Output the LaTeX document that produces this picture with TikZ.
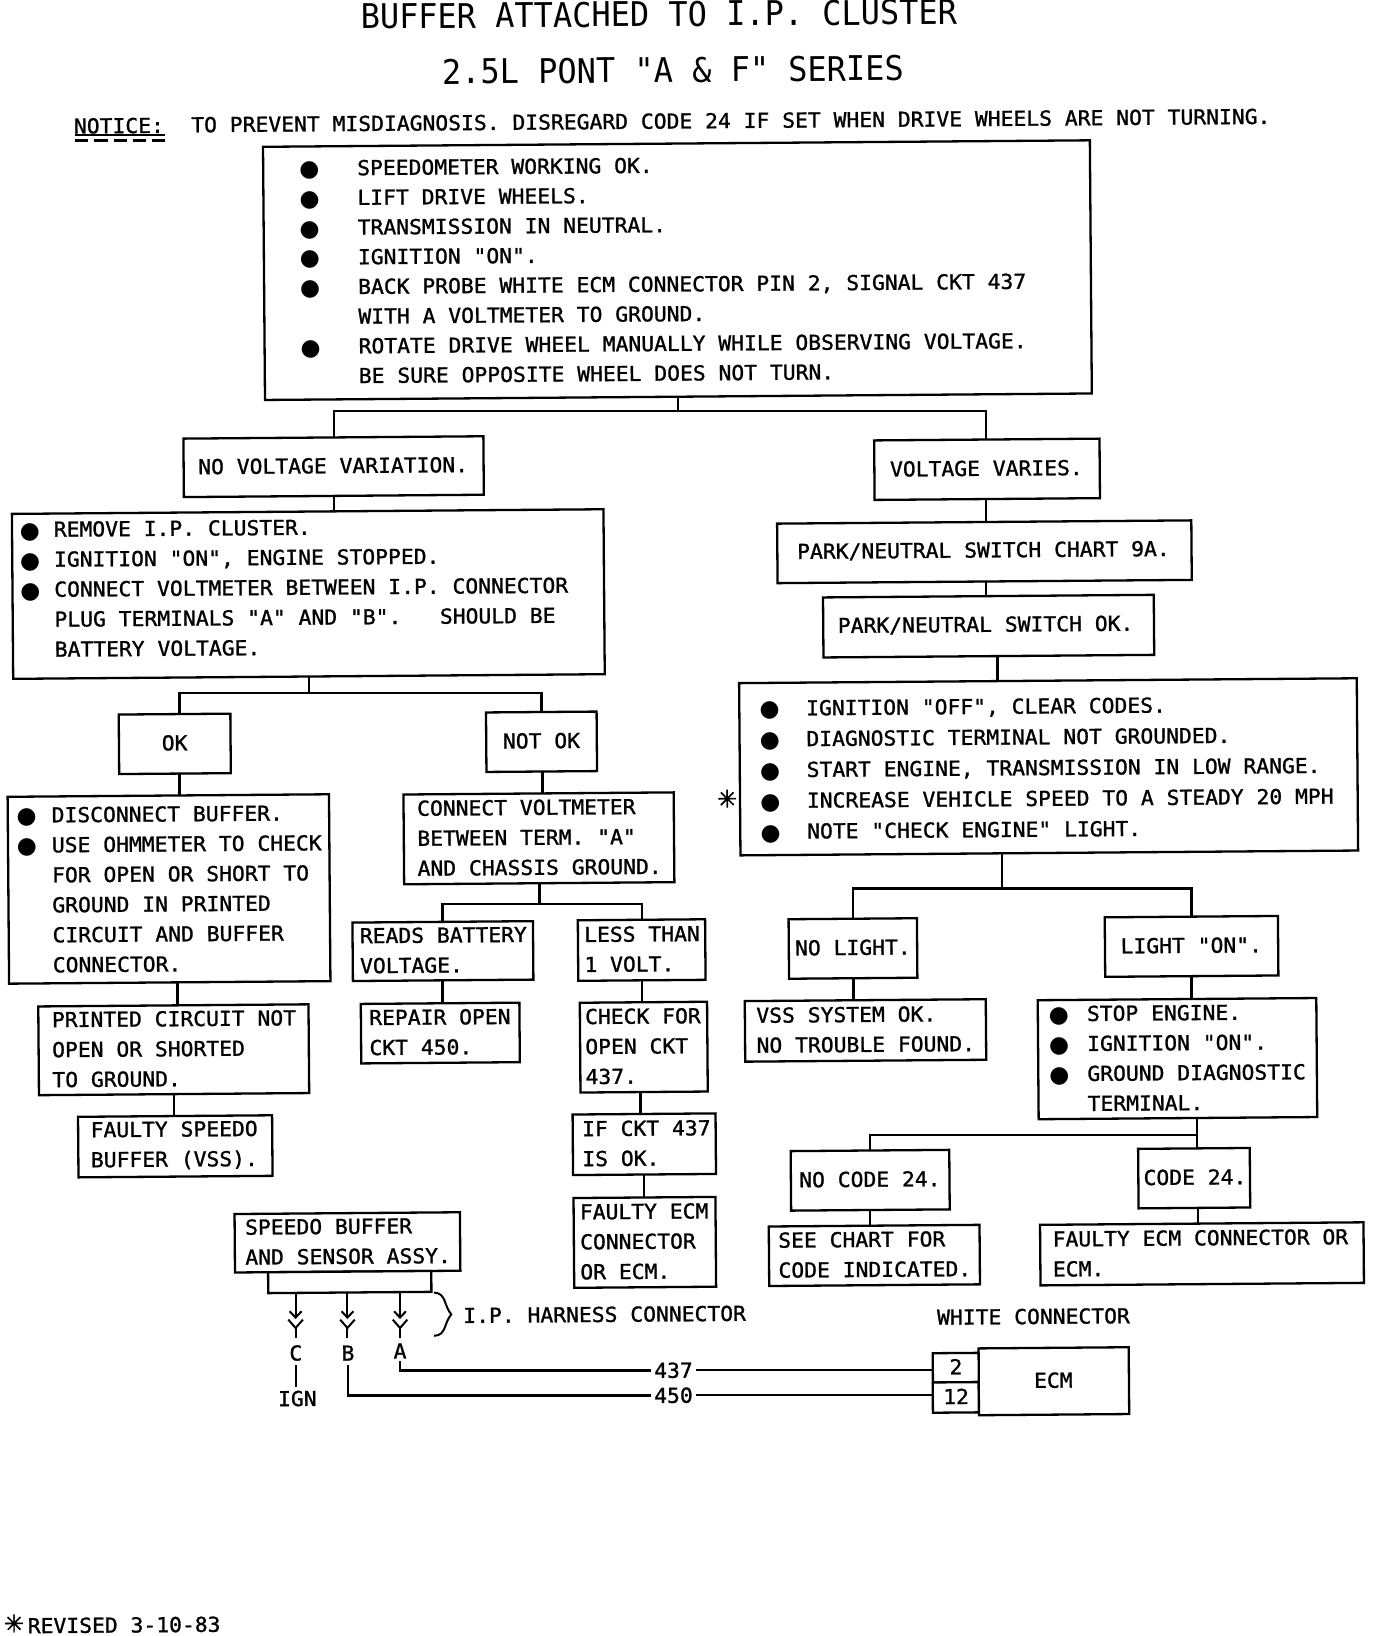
\documentclass[tikz,border=0pt]{standalone}
\usepackage{fontspec}
\newfontfamily\monoA[FakeStretch=1.036,FakeBold=1.2]{DejaVu Sans Mono}
\newfontfamily\monoT[FakeStretch=0.94]{DejaVu Sans Mono}
\newfontfamily\symf{DejaVu Sans}
\newfontfamily\symb[FakeBold=1.5]{DejaVu Sans}
\newcommand{\bodyf}{\monoA\fontsize{10.3}{15}\selectfont}
\newcommand{\titlef}{\monoT\fontsize{17}{20}\selectfont}
\newcommand{\bul}[1]{\leavevmode\llap{\makebox[0pt][c]{\raisebox{-0.6pt}{\symf\fontsize{11.5}{15}\selectfont ●}}\hspace{#1pt}}}
\newcommand{\starm}{\symb\fontsize{12}{14}\selectfont ✳}
\newcommand{\tup}[1]{\par\nointerlineskip\vskip #1pt\hbox{}}
\tikzset{
  x=0.5217pt,y=0.522pt,
  bxs/.style={draw=black,line width=1.15pt,fill=white,inner sep=0pt,outer sep=0pt,align=left,font=\bodyf,rotate=0.45},
  txt/.style={inner sep=0pt,outer sep=0pt,font=\bodyf,rotate=0.45},
  ttl/.style={inner sep=0pt,outer sep=0pt,font=\titlef,rotate=0.45},
  conn/.style={draw=black,line width=1.15pt,line join=miter},
  wire/.style={draw=black,line width=1.3pt},
  thin wire/.style={draw=black,line width=1pt}
}
\newcommand{\bx}[7]{%
  \pgfmathsetmacro\bxW{(#4-(#2))*0.5217}%
  \pgfmathsetmacro\bxH{(#5-(#3))*0.522}%
  \pgfmathsetmacro\bxX{((#2)+(#4))/2}%
  \pgfmathsetmacro\bxY{-((#3)+(#5))/2}%
  \pgfmathsetmacro\bxP{(#6)*0.5225}%
  \node[bxs,text width=\bxW pt,minimum height=\bxH pt] (#1) at (\bxX,\bxY) {\leftskip=\bxP pt \spaceskip=0pt \xspaceskip=0pt #7\tup{1}};%
}
\newcommand{\vcon}[3]{\draw[conn] (#1.south -| #3,0) -- (#2.north -| #3,0);}
\newcommand{\trio}[7]{%
  \coordinate (#1j) at (#2,-#3);
  \draw[conn] (#1.south -| #2,0) -- (#1j);
  \draw[conn] (#4.north -| #5,0) |- (#1j) -| (#6.north -| #7,0);
}
\newcommand{\pinn}[2]{%
  \coordinate (#1t) at (#2,-1238.3);
  \coordinate (#1a) at (#2,-1262);
  \coordinate (#1l) at (#2-5.7,-1256);
  \coordinate (#1r) at (#2+5.7,-1256);
  \coordinate (#1yl) at (#2-7,-1264);
  \coordinate (#1yr) at (#2+7,-1264);
  \coordinate (#1yj) at (#2,-1272);
  \coordinate (#1yb) at (#2,-1282);
  \draw[thin wire] (#1t) -- (#1a);
  \draw[thin wire] (#1l) -- (#1a) -- (#1r);
  \draw[thin wire] (#1yl) -- (#1yj) -- (#1yr);
  \draw[thin wire] (#1yj) -- (#1yb);
}
\begin{document}
\begin{tikzpicture}
\useasboundingbox[fill=white] (0,0) rectangle (1318.77,-1567.05);

\node[ttl] (t1) at (631.5,-13.5) {BUFFER ATTACHED TO I.P. CLUSTER};
\node[ttl] (t2) at (645,-67) {2.5L PONT "A \& F" SERIES};
\node[txt] (notice) at (114,-120.4) {NOTICE:};
\node[txt] (noticet) at (700.5,-115.5) {TO PREVENT MISDIAGNOSIS. DISREGARD CODE 24 IF SET WHEN DRIVE WHEELS ARE NOT TURNING.};
\coordinate (nu1) at (72,-129);
\coordinate (nu2) at (158,-129);
\coordinate (nd1) at (72,-135);
\coordinate (nd2) at (158,-135);
\draw[line width=1.1pt] (nu1) -- (nu2);
\draw[line width=1.5pt,dash pattern=on 6.6pt off 3pt] (nd1) -- (nd2);

\bx{main}{253}{137.5}{1045.5}{380}{90}{\baselineskip=14.85pt
\bul{24}SPEEDOMETER WORKING OK.\\
\bul{24}LIFT DRIVE WHEELS.\\
\bul{24}TRANSMISSION IN NEUTRAL.\\
\bul{24}IGNITION "ON".\\
\bul{24}BACK PROBE WHITE ECM CONNECTOR PIN 2, SIGNAL CKT 437\\
WITH A VOLTMETER TO GROUND.\\
\bul{24}ROTATE DRIVE WHEEL MANUALLY WHILE OBSERVING VOLTAGE.\\
BE SURE OPPOSITE WHEEL DOES NOT TURN.}

\bx{novar}{176}{419}{463.5}{475}{14}{NO VOLTAGE VARIATION.}
\bx{varies}{838}{421}{1054}{478}{15}{VOLTAGE VARIES.}
\bx{remove}{12}{490}{579}{648}{40}{%
\bul{12}REMOVE I.P. CLUSTER.\\
\bul{12}IGNITION "ON", ENGINE STOPPED.\\
\bul{12}CONNECT VOLTMETER BETWEEN I.P. CONNECTOR\\
PLUG TERMINALS "A" AND "B".\ \ \ SHOULD BE\\
BATTERY VOLTAGE.\tup{5.8}}
\bx{parkc}{745}{500}{1142}{557}{19}{PARK/NEUTRAL SWITCH CHART 9A.}
\bx{parkok}{789}{571}{1106}{628.5}{14}{PARK/NEUTRAL SWITCH OK.}
\bx{ign}{709}{652}{1301}{817}{64}{\baselineskip=15.4pt
\bul{18.3}IGNITION "OFF", CLEAR CODES.\\
\bul{18.3}DIAGNOSTIC TERMINAL NOT GROUNDED.\\
\bul{18.3}START ENGINE, TRANSMISSION IN LOW RANGE.\\
\bul{18.3}INCREASE VEHICLE SPEED TO A STEADY 20 MPH\\
\bul{18.3}NOTE "CHECK ENGINE" LIGHT.\tup{-3.6}}
\bx{ok}{114}{684}{221}{741}{41}{OK}
\bx{notok}{466}{682}{572}{739}{16}{NOT OK}
\bx{disc}{8}{762}{316}{941}{42}{%
\bul{12.5}DISCONNECT BUFFER.\\
\bul{12.5}USE OHMMETER TO CHECK\\
FOR OPEN OR SHORT TO\\
GROUND IN PRINTED\\
CIRCUIT AND BUFFER\\
CONNECTOR.\tup{-1}}
\bx{volt}{387}{760}{646}{846}{13}{CONNECT VOLTMETER\\BETWEEN TERM. "A"\\AND CHASSIS GROUND.}
\bx{nolight}{756}{880}{879}{937}{6}{NO LIGHT.}
\bx{light}{1059}{878}{1225}{935}{15}{LIGHT "ON".}
\bx{reads}{338}{883}{511}{939}{7}{READS BATTERY\\VOLTAGE.}
\bx{less}{554}{881}{676}{939}{6}{LESS THAN\\1 VOLT.}
\bx{vss}{714}{958}{945}{1016}{11}{VSS SYSTEM OK.\\NO TROUBLE FOUND.}
\bx{stop}{995}{957}{1262}{1071}{47}{%
\bul{14}STOP ENGINE.\\
\bul{14}IGNITION "ON".\\
\bul{14}GROUND DIAGNOSTIC\\
TERMINAL.}
\bx{printed}{37}{963}{296}{1048}{13}{PRINTED CIRCUIT NOT\\OPEN OR SHORTED\\TO GROUND.}
\bx{repair}{346}{961}{498}{1018}{8}{REPAIR OPEN\\CKT 450.}
\bx{check}{556}{960}{678}{1046}{5}{CHECK FOR\\OPEN CKT\\437.}
\bx{fspeedo}{75}{1069}{261}{1127}{12}{FAULTY SPEEDO\\BUFFER (VSS).}
\bx{ifckt}{549}{1067}{686}{1125}{9}{IF CKT 437\\IS OK.}
\bx{nocode}{758}{1102}{910}{1159}{8}{NO CODE 24.}
\bx{code}{1091}{1100}{1198}{1157}{5}{CODE 24.}
\bx{fecm}{550}{1147}{686}{1233}{6}{FAULTY ECM\\CONNECTOR\\OR ECM.}
\bx{see}{737}{1174}{939}{1231}{9}{SEE CHART FOR\\CODE INDICATED.}
\bx{fconn}{997}{1172}{1307}{1230}{12}{FAULTY ECM CONNECTOR OR\\ECM.}
\bx{buffer}{225}{1162}{441}{1218}{10}{SPEEDO BUFFER\\AND SENSOR ASSY.}
\bx{plug}{257}{1218}{413.4}{1238}{0}{}

\bx{ecm}{938}{1291}{1082}{1355}{53}{ECM}
\bx{ptwo}{894}{1296}{938}{1324}{16}{2}
\bx{ptwelve}{894}{1324}{938}{1353}{10}{12}

\node[txt] (harness) at (579.5,-1259) {I.P. HARNESS CONNECTOR};
\node[txt] (white) at (990.5,-1261) {WHITE CONNECTOR};
\node[txt] (star1) at (697,-765) {\starm};
\node[txt] (star2) at (13.5,-1555) {\starm};
\node[txt] (revised) at (119,-1556.5) {REVISED 3-10-83};

% tree
\trio{main}{650}{394}{novar}{320}{varies}{945}
\vcon{novar}{remove}{320}
\vcon{varies}{parkc}{945}
\vcon{parkc}{parkok}{945}
\vcon{parkok}{ign}{956}
\trio{remove}{296}{664}{ok}{172}{notok}{519}
\vcon{ok}{disc}{172}
\vcon{notok}{volt}{520}
\trio{volt}{517}{866}{reads}{424}{less}{615}
\trio{ign}{960}{851}{nolight}{817.5}{light}{1142}
\vcon{disc}{printed}{170}
\vcon{reads}{repair}{424}
\vcon{less}{check}{615}
\vcon{check}{ifckt}{614}
\vcon{ifckt}{fecm}{617}
\vcon{printed}{fspeedo}{167}
\vcon{nolight}{vss}{818}
\vcon{light}{stop}{1142}
\trio{stop}{1147}{1087}{nocode}{834}{code}{1147}
\vcon{nocode}{see}{834}
\vcon{code}{fconn}{1148}

% harness pins
\pinn{pc}{283.3}
\pinn{pb}{333}
\pinn{pa}{383.4}
\node[txt] (lc) at (283.5,-1296) {C};
\node[txt] (lb) at (333.5,-1296) {B};
\node[txt] (la) at (383.4,-1294) {A};
\node[txt] (lign) at (285,-1339.6) {IGN};
\draw[conn,line width=0.9pt,shorten <=2pt,shorten >=2pt] (lc.south) -- (lign.north -| lc.south);
\coordinate (br1) at (416,-1238);
\coordinate (br2) at (416,-1279.5);
\coordinate (brm) at (432.5,-1259);
\draw[line width=1pt] (br1) .. controls (428,-1239) and (425,-1250) .. (brm) .. controls (425,-1268) and (428,-1279) .. (br2);

\node[txt,fill=white,inner xsep=1.5pt] (w437) at (645.5,-1312.5) {437};
\node[txt,fill=white,inner xsep=1.5pt] (w450) at (645.5,-1336.5) {450};
\draw[wire,shorten <=1.5pt] (la.south) |- (w437.west);
\draw[wire] (w437.east) -- (ptwo.west |- w437.east);
\draw[wire,shorten <=2pt] (lb.south) |- (w450.west);
\draw[wire] (w450.east) -- (ptwelve.west |- w450.east);
\end{tikzpicture}
\end{document}
